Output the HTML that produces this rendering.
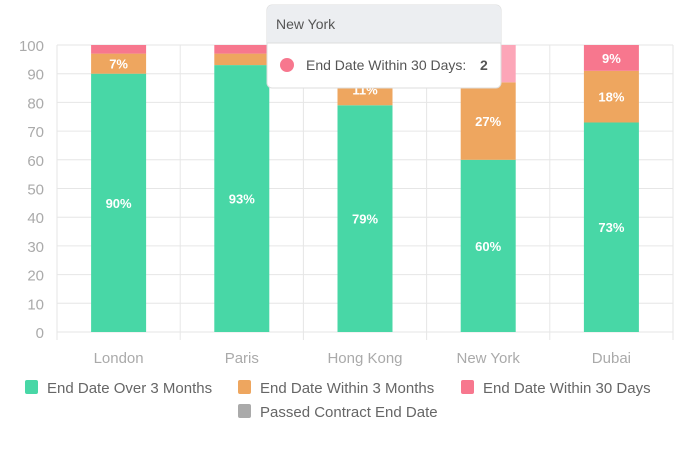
<!DOCTYPE html>
<html><head><meta charset="utf-8"><style>
body{margin:0;background:#fff;font-family:"Liberation Sans",sans-serif;}
svg text{font-family:"Liberation Sans",sans-serif;}
</style></head><body>
<svg width="700" height="446" id="c">
<g id="grid"></g>
<g id="bars"></g>
<g id="labels"></g>
<g id="legend"></g>
<g id="tooltip">
<rect x="267" y="5" width="234" height="83" rx="5" fill="#fff" stroke="#ddd"/>
<path d="M267,43 V10 a5,5 0 0 1 5,-5 H496 a5,5 0 0 1 5,5 V43 Z" fill="#eceef1"/>
<line x1="267" y1="43" x2="501" y2="43" stroke="#ddd"/>
<text x="276" y="29" font-size="14" fill="#555">New York</text>
<circle cx="287" cy="65" r="7" fill="#f7778e"/>
<text x="306" y="70" font-size="14" fill="#555">End Date Within 30 Days:</text>
<text x="480" y="70" font-size="14" fill="#555" font-weight="bold">2</text>
</g>
</svg>
<script>
const categories=["London","Paris","Hong Kong","New York","Dubai"];
const over3=[90,93,79,60,73];
const within3=[7,4,11,27,18];
const within30=[3,3,10,13,9];
const yTicks=[0,10,20,30,40,50,60,70,80,90,100];
const seriesNames=["End Date Over 3 Months","End Date Within 3 Months","End Date Within 30 Days","Passed Contract End Date"];
const colors=["#48d7a6","#eea65f","#f7778e","#aaaaaa"];
const NS="http://www.w3.org/2000/svg";
const x0=57,x1=673,yTop=45,yBot=332;
const bw=(x1-x0)/categories.length;
const y=v=>yBot-(v/100)*(yBot-yTop);
const xc=i=>x0+bw*(i+0.5);
function mk(t,a,p){const e=document.createElementNS(NS,t);for(const k in a)e.setAttribute(k,a[k]);p.appendChild(e);return e;}
const G=document.getElementById('grid'),B=document.getElementById('bars'),L=document.getElementById('labels'),LG=document.getElementById('legend');
yTicks.forEach(t=>{
 const l=mk('line',{x1:x0,x2:x1,y1:y(t),y2:y(t),stroke:'#e6e6e6'},G);
 
 
 const tx=mk('text',{x:44,y:y(t)+6,'text-anchor':'end','font-size':15,fill:'#aaa'},G);
 tx.textContent=t;
 
 
});
for(let i=0;i<=categories.length;i++){
 const l=mk('line',{x1:x0+bw*i,x2:x0+bw*i,y1:yTop,y2:yBot+8,stroke:'#e6e6e6'},G);
 
 
}
categories.forEach((c,i)=>{
 const tx=mk('text',{x:xc(i),y:363,'text-anchor':'middle','font-size':15,fill:'#aaa'},G);
 tx.textContent=c;
 
 
 const vals=[over3[i],within3[i],within30[i]];
 let base=0;
 vals.forEach((v,s)=>{
  let col=colors[s];
  if(s===2&&i===3)col='#fca6b8';
  const r=mk('rect',{x:xc(i)-27.5,width:55,y:y(base+v),height:y(base)-y(base+v),fill:col},B);
  
  
  if(v>=5){
   const t=mk('text',{x:xc(i),y:(y(base)+y(base+v))/2+5,'text-anchor':'middle','font-size':13,'font-weight':'bold',fill:'#fff'},L);
   t.textContent=v+'%';
   
   
  }
  base+=v;
 });
});
const pos=[[25,388],[238,388],[461,388],[238,412]];
seriesNames.forEach((n,s)=>{
 const r=mk('rect',{x:pos[s][0],y:pos[s][1]-8,width:13,height:14,rx:2,fill:colors[s]},LG);
 
 
 const t=mk('text',{x:pos[s][0]+22,y:pos[s][1]+5,'font-size':15,fill:'#666'},LG);
 t.textContent=n;
 
 
});
</script>
</body></html>
